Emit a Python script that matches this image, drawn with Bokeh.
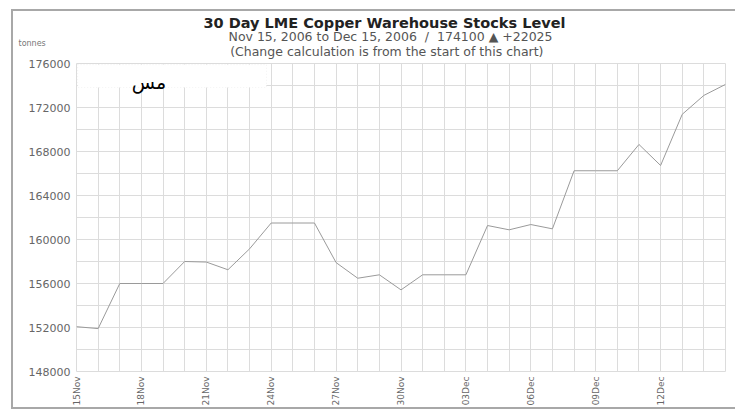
from math import pi
from bokeh.plotting import figure
from bokeh.models import Range1d, FixedTicker, Label, BoxAnnotation, ColumnDataSource, Title
from bokeh.embed import file_html
from bokeh.resources import INLINE

# ---- data ----
day_index = list(range(31))
dates = ["15Nov", "16Nov", "17Nov", "18Nov", "19Nov", "20Nov", "21Nov", "22Nov", "23Nov",
         "24Nov", "25Nov", "26Nov", "27Nov", "28Nov", "29Nov", "30Nov", "01Dec", "02Dec",
         "03Dec", "04Dec", "05Dec", "06Dec", "07Dec", "08Dec", "09Dec", "10Dec", "11Dec",
         "12Dec", "13Dec", "14Dec", "15Dec"]
stocks = [152075, 151900, 156000, 156000, 156000, 158000, 157950, 157250, 159150, 161500,
          161500, 161500, 157900, 156480, 156790, 155420, 156790, 156790, 156790, 161270,
          160880, 161360, 160970, 166250, 166250, 166250, 168640, 166730, 171380, 173100,
          174100]
x_label_every = 3
y_ticks = list(range(148000, 176001, 4000))
y_minor = list(range(148000, 176001, 2000))
y_tick_labels = [str(v) for v in y_ticks]

title_text = "30 Day LME Copper Warehouse Stocks Level"
subtitle_text = "Nov 15, 2006 to Dec 15, 2006 \u00a0/\u00a0 174100 \u25b2 +22025"
note_text = "(Change calculation is from the start of this chart)"
unit_text = "tonnes"
legend_text = "مس"

GRID = "#dcdcdc"
LINE = "#9a9a9a"
TXT = "#666666"

W, H = 724, 400
p = figure(width=W, height=H, output_backend="svg", toolbar_location=None,
           x_range=Range1d(0, 30), y_range=Range1d(148000, 176000),
           min_border_left=63, min_border_right=12, min_border_top=52, min_border_bottom=40)
p.styles = {"margin-left": "11px", "margin-top": "9px",
            "border-top": "2px solid #a8a8a8", "border-left": "2px solid #a8a8a8",
            "border-bottom": "2px solid #a8a8a8"}
p.background_fill_color = "white"
p.border_fill_color = "white"
p.outline_line_color = GRID

src = ColumnDataSource(dict(x=day_index, y=stocks))
p.line("x", "y", source=src, line_color=LINE, line_width=1)

# x axis
xt = day_index[::x_label_every][:-1] if day_index[-1] % x_label_every == 0 else day_index[::x_label_every]
p.xaxis.ticker = FixedTicker(ticks=xt, minor_ticks=day_index)
p.xaxis.major_label_overrides = {i: dates[i] for i in xt}
p.xaxis.major_label_orientation = pi / 2
p.xaxis.major_label_text_font = "DejaVu Sans"
p.xaxis.major_label_text_font_size = "9px"
p.xaxis.major_label_text_color = TXT
p.xaxis.major_label_standoff = 1

# y axis
p.yaxis.ticker = FixedTicker(ticks=y_ticks, minor_ticks=y_minor)
p.yaxis.major_label_overrides = {v: s for v, s in zip(y_ticks, y_tick_labels)}
p.yaxis.major_label_text_font = "DejaVu Sans"
p.yaxis.major_label_text_font_size = "11px"
p.yaxis.major_label_text_color = TXT
p.yaxis.major_label_standoff = 2

for ax in (p.xaxis, p.yaxis):
    ax.axis_line_color = None
    ax.major_tick_line_color = None
    ax.minor_tick_line_color = None
    ax.major_tick_out = 0
    ax.major_tick_in = 0

for g in (p.xgrid, p.ygrid):
    g.grid_line_color = GRID
    g.grid_line_width = 1
    g.minor_grid_line_color = GRID
    g.minor_grid_line_width = 1

# legend-like white box
p.add_layout(BoxAnnotation(left=0.05, right=8.78, top=175900, bottom=173820,
                           fill_color="white", fill_alpha=1.0,
                           line_color="#d8d8d8", line_dash="1 2", line_width=1))
p.add_layout(Label(x=2.55, y=174300, text=legend_text, text_font="DejaVu Sans",
                   text_font_size="19px", text_color="black", text_baseline="alphabetic"))

# title rows (first added = closest to the frame)
p.add_layout(Title(text=" ", text_font_size="4px", standoff=-2), "above")
p.add_layout(Title(text=note_text, text_font="DejaVu Sans", text_font_size="12.5px",
                   text_font_style="normal", text_color="#555555", align="right",
                   offset=182, vertical_align="middle", standoff=-2), "above")
p.add_layout(Title(text=unit_text, text_font="DejaVu Sans", text_font_size="8px",
                   text_font_style="normal", text_color="#777777", align="left",
                   offset=-58, vertical_align="middle", standoff=-12), "above")
p.add_layout(Title(text=subtitle_text, text_font="DejaVu Sans", text_font_size="12.5px",
                   text_font_style="normal", text_color="#555555", align="right",
                   offset=173, vertical_align="middle", standoff=-2), "above")
p.add_layout(Title(text=title_text, text_font="DejaVu Sans", text_font_size="14.5px",
                   text_font_style="bold", text_color="#222222", align="right",
                   offset=160, vertical_align="middle", standoff=-6), "above")

open("out.html", "w").write(file_html(p, INLINE))
